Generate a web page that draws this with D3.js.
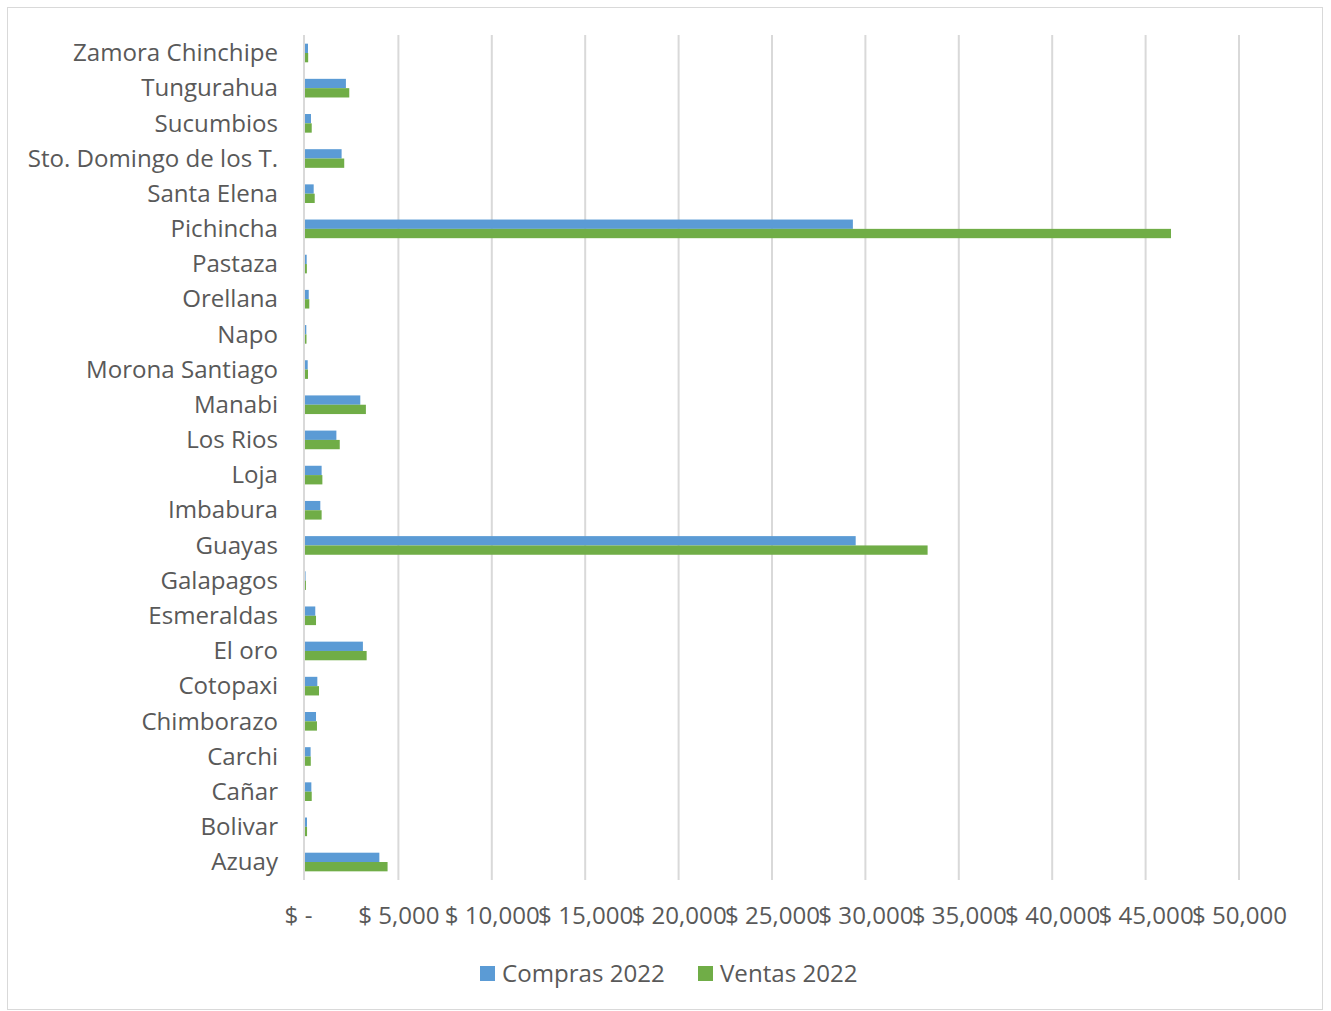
<!DOCTYPE html>
<html><head><meta charset="utf-8">
<script src="https://cdn.jsdelivr.net/npm/d3@7"></script>
<style>body{margin:0;background:#fff}svg{display:block}</style>
</head><body><svg id="c" width="1331" height="1011"></svg>
<script>
const categories = ["Zamora Chinchipe","Tungurahua","Sucumbios","Sto. Domingo de los T.","Santa Elena","Pichincha","Pastaza","Orellana","Napo","Morona Santiago","Manabi","Los Rios","Loja","Imbabura","Guayas","Galapagos","Esmeraldas","El oro","Cotopaxi","Chimborazo","Carchi","Cañar","Bolivar","Azuay"];
const compras2022 = [160,2190,320,1960,465,29330,90,200,70,145,2960,1680,890,820,29480,30,550,3100,660,590,300,340,107,3980];
const ventas2022  = [170,2370,360,2100,520,46360,100,230,80,160,3260,1860,930,890,33330,50,590,3300,750,640,310,360,110,4420];
const seriesNames = ["Compras 2022","Ventas 2022"];
const tickValues = [0,5000,10000,15000,20000,25000,30000,35000,40000,45000,50000];
const tickLabels = ["$ -","$ 5,000","$ 10,000","$ 15,000","$ 20,000","$ 25,000","$ 30,000","$ 35,000","$ 40,000","$ 45,000","$ 50,000"];
const colors = ["#5B9BD5","#70AD47"];

const svg = d3.select("#c");
const font = "'Open Sans', sans-serif";
const txt = "#595959";

const probe = svg.append("text").attr("font-family",font).attr("font-size",100).text("Zamora Chinchipe");
const fs = Math.round(205/probe.node().getComputedTextLength()*100*10)/10;
probe.remove();

svg.append("rect").attr("x",7.5).attr("y",7.5).attr("width",1315).attr("height",1002)
  .attr("fill","#fff").attr("stroke","#d9d9d9").attr("stroke-width",1);

const x = d3.scaleLinear().domain([0,50000]).range([305,1239]);
const y = d3.scaleBand().domain(categories).range([35.4,879.6]).paddingInner(0.47).paddingOuter(0.235);
const ys = d3.scaleBand().domain(seriesNames).range([0,y.bandwidth()]);

svg.append("g").selectAll("line").data(tickValues.slice(1)).join("line")
  .attr("x1",d=>x(d)).attr("x2",d=>x(d)).attr("y1",35).attr("y2",880)
  .attr("stroke","#d9d9d9").attr("stroke-width",2);

const data = categories.map((c,i)=>({cat:c, vals:[compras2022[i], ventas2022[i]]}));
const g = svg.append("g");
data.forEach(d=>{
  d.vals.forEach((v,j)=>{
    g.append("rect").attr("x",x(0)).attr("y",y(d.cat)+ys(seriesNames[j]))
      .attr("width",x(v)-x(0)).attr("height",ys.bandwidth()).attr("fill",colors[j]);
  });
});

svg.append("line").attr("x1",x(0)-1).attr("x2",x(0)-1).attr("y1",35).attr("y2",880)
  .attr("stroke","#d9d9d9").attr("stroke-width",2);

const yAxis = d3.axisLeft(y).tickSize(0).tickPadding(0);
const ya = svg.append("g").attr("transform","translate(278,1)").call(yAxis);
ya.select(".domain").remove();
ya.selectAll("text").attr("font-family",font).attr("font-size",fs).attr("fill",txt).attr("dy","0.3em");

const xAxis = d3.axisBottom(x).tickValues(tickValues).tickSize(0).tickPadding(0)
  .tickFormat((d,i)=>tickLabels[i]);
const xa = svg.append("g").attr("transform","translate(0,917)").call(xAxis);
xa.select(".domain").remove();
xa.selectAll("text").attr("font-family",font).attr("font-size",fs).attr("fill",txt).attr("dy","0.3em")
  .attr("dx",(d)=>d===0?-7:0);

const leg = svg.append("g");
const legX = [480,698];
seriesNames.forEach((s,i)=>{
  leg.append("rect").attr("x",legX[i]).attr("y",966).attr("width",15).attr("height",15).attr("fill",colors[i]);
  leg.append("text").attr("x",legX[i]+22).attr("y",974.5).attr("dy","0.33em")
    .attr("font-family",font).attr("font-size",fs).attr("fill",txt).text(s);
});
</script></body></html>
